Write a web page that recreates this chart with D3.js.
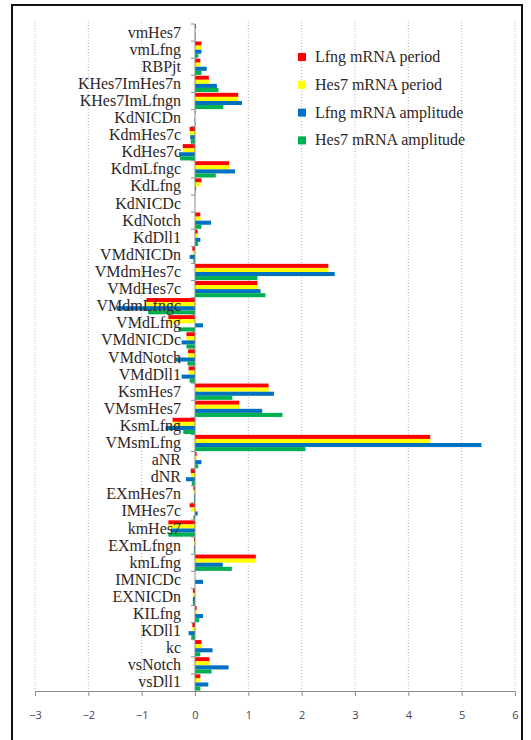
<!DOCTYPE html>
<html><head><meta charset="utf-8">
<script src="https://cdn.jsdelivr.net/npm/d3@7"></script>
<style>body{margin:0;background:#fff}svg{display:block}</style>
</head><body>
<svg id="c" width="531" height="740"></svg>
<script>
const categories = ["vmHes7","vmLfng","RBPjt","KHes7ImHes7n","KHes7ImLfngn","KdNICDn","KdmHes7c","KdHes7c","KdmLfngc","KdLfng","KdNICDc","KdNotch","KdDll1","VMdNICDn","VMdmHes7c","VMdHes7c","VMdmLfngc","VMdLfng","VMdNICDc","VMdNotch","VMdDll1","KsmHes7","VMsmHes7","KsmLfng","VMsmLfng","aNR","dNR","EXmHes7n","IMHes7c","kmHes7","EXmLfngn","kmLfng","IMNICDc","EXNICDn","KILfng","KDll1","kc","vsNotch","vsDll1"];
const lfngPeriod = [0.02,0.12,0.1,0.26,0.81,0.01,-0.1,-0.23,0.64,0.12,0,0.1,0.05,-0.05,2.5,1.17,-0.91,-0.5,-0.16,-0.13,-0.12,1.38,0.83,-0.42,4.41,0.03,-0.08,-0.03,-0.1,-0.5,-0.02,1.14,0,-0.04,0.03,-0.05,0.12,0.27,0.1];
const hes7Period = [0.02,0.12,0.1,0.26,0.81,0.01,-0.1,-0.23,0.64,0.1,0,0.1,0.05,-0.04,2.5,1.17,-0.91,-0.5,-0.16,-0.13,-0.12,1.38,0.83,-0.42,4.41,0.03,-0.08,-0.03,-0.08,-0.5,-0.02,1.14,0,-0.04,0.03,-0.05,0.12,0.27,0.1];
const lfngAmp = [0.01,0.12,0.22,0.41,0.88,-0.01,-0.09,-0.3,0.75,0.02,0,0.3,0.1,-0.1,2.62,1.23,-1.47,0.15,-0.25,-0.37,-0.25,1.48,1.26,-0.55,5.37,0.12,-0.17,-0.02,0.05,-0.45,-0.02,0.52,0.15,-0.04,0.15,-0.12,0.33,0.63,0.25];
const hes7Amp = [0.01,0.06,0.12,0.44,0.53,0.01,-0.08,-0.28,0.39,0.01,0,0.12,0.06,-0.03,1.17,1.32,-0.88,-0.31,-0.16,-0.14,-0.1,0.7,1.64,-0.22,2.07,0.06,-0.06,-0.02,-0.03,-0.5,-0.02,0.69,0,-0.04,0.08,-0.07,0.1,0.31,0.1];
const seriesNames = ["Lfng mRNA period","Hes7 mRNA period","Lfng mRNA amplitude","Hes7 mRNA amplitude"];
const seriesColors = ["#FF0000","#FFFF00","#0070C0","#00B050"];
const xTicks = [-3,-2,-1,0,1,2,3,4,5,6];

const seriesData = [lfngPeriod, hes7Period, lfngAmp, hes7Amp];
const svg = d3.select("#c");
const plotTop = 24, plotBottom = 691;
const x = d3.scaleLinear().domain([-3, 6]).range([35, 515]);
const y = d3.scaleBand().domain(categories).range([plotTop, plotBottom]).paddingInner(0).paddingOuter(0);
const inner = d3.scaleBand().domain(d3.range(4)).range([0, y.bandwidth()]).paddingOuter(0.1).paddingInner(0);

// frame
svg.append("rect").attr("x",12).attr("y",5).attr("width",510).attr("height",745)
  .attr("fill","none").attr("stroke","#111").attr("stroke-width",2);

// gridlines
svg.append("g").selectAll("line").data(xTicks.filter(d=>d!==0)).join("line")
  .attr("x1",d=>x(d)).attr("x2",d=>x(d)).attr("y1",plotTop-2).attr("y2",plotBottom)
  .attr("stroke","#b5b5b5").attr("stroke-width",1).attr("stroke-dasharray","1,2");

// bars
const rows = [];
categories.forEach((c,i)=>seriesData.forEach((s,j)=>rows.push({c, j, v:s[i]})));
svg.append("g").selectAll("rect").data(rows).join("rect")
  .attr("x",d=>x(Math.min(0,d.v)))
  .attr("width",d=>Math.abs(x(d.v)-x(0)))
  .attr("y",d=>y(d.c)+inner(d.j))
  .attr("height",inner.bandwidth())
  .attr("fill",d=>seriesColors[d.j]);

// zero axis with category ticks
const x0 = x(0);
svg.append("line").attr("x1",x0).attr("x2",x0).attr("y1",plotTop).attr("y2",plotBottom).attr("stroke","#8c8c8c");
svg.append("g").selectAll("line").data(categories).join("line")
  .attr("x1",x0-4).attr("x2",x0).attr("y1",d=>y(d)).attr("y2",d=>y(d)).attr("stroke","#8c8c8c");

// bottom axis
const xAxis = d3.axisBottom(x).tickValues(xTicks).tickSize(5).tickPadding(15).tickFormat(d3.format("d"));
const gx = svg.append("g").attr("transform",`translate(0,${plotBottom})`).call(xAxis);
gx.select(".domain").attr("stroke","#8c8c8c");
gx.selectAll(".tick line").attr("stroke","#8c8c8c");
gx.selectAll("text").attr("fill","#4a4050").style("font-family","'Open Sans',sans-serif").style("font-size","11px");

// category labels
svg.append("g").selectAll("text").data(categories).join("text")
  .attr("x",181).attr("y",d=>y(d)+y.bandwidth()/2+5)
  .attr("text-anchor","end")
  .style("font-family","'Liberation Serif','Times New Roman',serif").style("font-size","16px")
  .attr("fill","#2e2626").text(d=>d);

// legend
const lg = svg.append("g").selectAll("g").data(seriesNames).join("g")
  .attr("transform",(d,i)=>`translate(302,${57+i*27.8})`);
lg.append("rect").attr("x",-4).attr("y",-4).attr("width",8).attr("height",8).attr("fill",(d,i)=>seriesColors[i]);
lg.append("text").attr("x",13).attr("y",5).text(d=>d)
  .style("font-family","'Liberation Serif','Times New Roman',serif").style("font-size","16px").attr("fill","#2e2626");
</script>
</body></html>
